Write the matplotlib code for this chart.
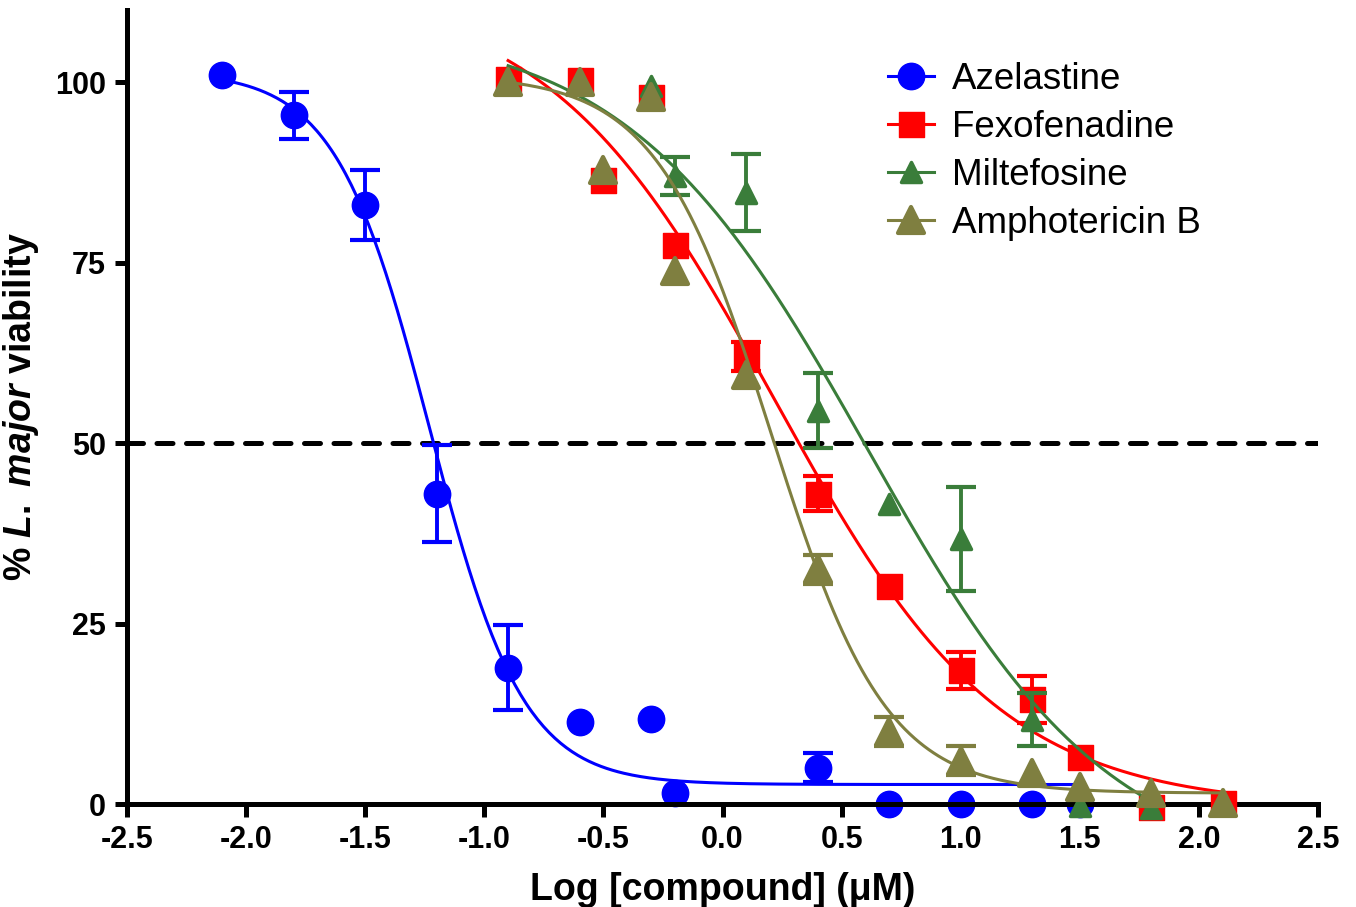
import numpy as np
import matplotlib.pyplot as plt
from matplotlib.lines import Line2D
from matplotlib.markers import MarkerStyle

plt.rcParams['font.family'] = ['Liberation Sans', 'DejaVu Sans']
plt.rcParams['mathtext.fontset'] = 'custom'
plt.rcParams['mathtext.it'] = 'Liberation Sans:italic:bold'
plt.rcParams['mathtext.rm'] = 'Liberation Sans:bold'

nan = np.nan

# Log [compound] (uM) and % viability (mean, SD)
aze_x = [-2.1, -1.8, -1.5, -1.2, -0.9, -0.6, -0.3, -0.2, 0.4, 0.7, 1.0, 1.3, 1.5]
aze_y = [101.0, 95.4, 83.0, 43.0, 18.9, 11.4, 11.8, 1.5, 5.0, 0.0, 0.0, 0.0, 0.0]
aze_err = [nan, 3.3, 4.9, 6.7, 5.9, nan, nan, nan, 2.0, nan, nan, nan, nan]

fexo_x = [-0.9, -0.6, -0.5, -0.3, -0.2, 0.1, 0.4, 0.7, 1.0, 1.3, 1.5, 1.8, 2.1]
fexo_y = [100.5, 100.3, 86.5, 98.0, 77.4, 62.0, 43.0, 30.2, 18.5, 14.5, 6.5, -0.4, 0.2]
fexo_err = [nan, nan, nan, nan, nan, 2.0, 2.4, nan, 2.5, 3.3, nan, nan, nan]

milt_x = [-0.9, -0.6, -0.3, -0.2, 0.1, 0.4, 0.7, 1.0, 1.3, 1.5, 1.8]
milt_y = [100.0, 100.0, 99.5, 87.0, 84.7, 54.5, 41.5, 36.7, 11.7, -0.3, -0.5]
milt_err = [nan, nan, nan, 2.6, 5.3, 5.2, nan, 7.2, 3.7, nan, nan]

ampho_x = [-0.9, -0.6, -0.5, -0.3, -0.2, 0.1, 0.4, 0.7, 1.0, 1.3, 1.5, 1.8, 2.1]
ampho_y = [100.0, 100.0, 87.8, 98.0, 73.9, 59.5, 32.5, 10.0, 6.0, 4.3, 2.4, 1.5, 0.2]
ampho_err = [nan, nan, nan, nan, nan, nan, 2.0, 2.0, 2.0, nan, nan, nan, nan]

# sigmoidal dose-response fits: top, bottom, logIC50, hill slope
aze_fit = (101.5, 2.7, -1.23, 2.2)
fexo_fit = (113.0, -0.5, 0.215, 0.91)
milt_fit = (108.0, -10.0, 0.612, 0.855)
ampho_fit = (101.0, 1.5, 0.205, 1.8)

labels = ['Azelastine', 'Fexofenadine', 'Miltefosine', 'Amphotericin B']
colors = ['#0000ff', '#ff0000', '#3a7d3a', '#7f7f40']


def dose_response(x, fit):
    top, bottom, logic50, hill = fit
    return bottom + (top - bottom) / (1 + 10 ** ((x - logic50) * hill))


fig = plt.figure(figsize=(13.56, 9.07), dpi=100)
ax = fig.add_axes([127 / 1356, 1 - 804 / 907, (1318 - 127) / 1356, (804 - 10) / 907])

# x, y, err, fit, marker, size, edge width
series = [
    (aze_x, aze_y, aze_err, aze_fit, 'o', 19, 1),
    (fexo_x, fexo_y, fexo_err, fexo_fit, 's', 18, 1),
    (milt_x, milt_y, milt_err, milt_fit, '^', 14, 2.5),
    (ampho_x, ampho_y, ampho_err, ampho_fit, '^', 18.5, 3),
]

ax.axhline(50, color='black', lw=3.6, ls=(0, (3.2, 2.7)), dash_capstyle='round', zorder=1)

for i, (xs, ys, errs, fit, mk, ms, mw) in enumerate(series):
    col = colors[i]
    xx = np.linspace(min(xs), max(xs), 300)
    ax.plot(xx, dose_response(xx, fit), color=col, lw=2.2, zorder=2 + i)
    ax.errorbar(xs, ys, yerr=errs, fmt='none', ecolor=col, elinewidth=2.8,
                capsize=10.5, capthick=3, clip_on=False, zorder=2.2 + i)
    ax.plot(xs, ys, ls='none', marker=MarkerStyle(mk, joinstyle='round'),
            ms=ms, color=col, mec=col, mew=mw, clip_on=False, zorder=2.5 + i)

ax.set_xlim(-2.5, 2.5)
ax.set_ylim(0, 110)
ax.set_xticks(np.arange(-2.5, 2.51, 0.5))
ax.set_xticklabels([f'{v:.1f}' for v in np.arange(-2.5, 2.51, 0.5)])
ax.set_yticks([0, 25, 50, 75, 100])

for side in ['top', 'right']:
    ax.spines[side].set_visible(False)
for side in ['left', 'bottom']:
    ax.spines[side].set_linewidth(3.6)
ax.tick_params(direction='out', length=9, width=3.6, labelsize=22, pad=6)
for lab in ax.get_xticklabels() + ax.get_yticklabels():
    lab.set_fontweight('bold')

ax.set_xlabel('Log [compound] (\u03bcM)', fontsize=27, fontweight='bold', labelpad=12)
ax.set_ylabel('% $\\it{L.\\ major}$ viability', fontsize=27, fontweight='bold', labelpad=10)

handles = [Line2D([], [], color=colors[i], lw=2.2,
                  marker=MarkerStyle(series[i][4], joinstyle='round'),
                  ms=series[i][5], mew=series[i][6]) for i in range(4)]
ax.legend(handles, labels, loc='upper left', bbox_to_anchor=(888 / 1356, 1 - 62 / 907),
          bbox_transform=fig.transFigure, frameon=False, fontsize=26.5,
          handlelength=1.25, handletextpad=0.5, labelspacing=0.35,
          borderpad=0, borderaxespad=0)

fig.savefig('out.png', dpi=100)
